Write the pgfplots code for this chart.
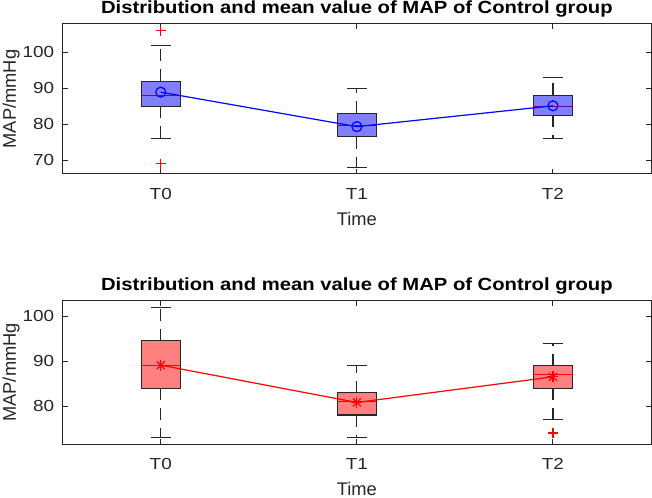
\documentclass[border=0pt]{standalone}
\usepackage{fontspec}
\setmainfont{Liberation Sans}
\newfontfamily\tickfont[FakeStretch=1.18]{Liberation Sans}
\newfontfamily\titlefont[FakeStretch=1.15]{Liberation Sans}
\usepackage{pgfplots}
\pgfplotsset{compat=1.18}

\definecolor{axgray}{RGB}{38,38,38}
\definecolor{boxblue}{RGB}{128,128,255}
\definecolor{boxred}{RGB}{255,128,128}
\definecolor{medpurple}{RGB}{128,0,128}

\pgfplotsset{
  every axis title/.style={at={(0.5,1)}, anchor=base, yshift=10bp, inner sep=0pt,
    font=\titlefont\bfseries\fontsize{17.6bp}{20bp}\selectfont},
  mapaxis/.style={
    scale only axis, width=588.3bp,
    xmin=0.5, xmax=3.5, xtick={1,2,3}, xticklabels={T0,T1,T2},
    tick align=inside, major tick length=5bp,
    axis line style={axgray, line width=1bp},
    every tick/.style={axgray, line width=1bp},
    ticklabel style={font=\tickfont\fontsize{16bp}{18bp}\selectfont, text=axgray, inner sep=0pt},
    xticklabel style={anchor=north, yshift=-14.5bp},
    yticklabel style={anchor=east, xshift=-8.4bp},
    /pgf/number format/assume math mode=true,
    xlabel={Time}, ylabel={MAP/mmHg},
    label style={font=\fontsize{18.3bp}{20bp}\selectfont, text=axgray, inner sep=0pt},
    xlabel style={at={(axis description cs:0.5,0)}, anchor=north, yshift=-38bp},
    ylabel style={at={(axis description cs:-0.0794,0.5)}, anchor=base},
    title={Distribution and mean value of MAP of Control group},
    unbounded coords=jump,
  },
  boxes/.style={draw=black!85, fill=#1, line width=1.1bp, forget plot},
  whisk/.style={black!85, dash pattern=on 12bp off 8bp, line width=1.1bp, forget plot},
  caps/.style={black!85, solid, line width=1.1bp, forget plot},
  medians/.style={#1, line width=1.1bp, forget plot},
  outl/.style={red, only marks, mark=+, mark size=5bp, mark options={solid, red, line width=1.1bp}, forget plot},
}

\begin{document}
\begin{tikzpicture}
\useasboundingbox (0,0) rectangle (652bp,498bp);

% Control group, first panel
\begin{axis}[mapaxis, at={(62.7bp,324bp)}, anchor=south west, height=150bp,
  ymin=66.1, ymax=107.9, ytick={70,80,90,100}]
  % whiskers: quartile -> whisker end
  \addplot[whisk] coordinates {
    (1,92) (1,102) (1,nan) (1,85) (1,76) (1,nan)
    (2,83) (2,90) (2,nan) (2,76.5) (2,68) (2,nan)
    (3,88) (3,93) (3,nan) (3,82.5) (3,76)};
  \addplot[caps] coordinates {
    (0.95,76) (1.05,76) (1,nan) (0.95,102) (1.05,102) (1,nan)
    (1.95,68) (2.05,68) (2,nan) (1.95,90) (2.05,90) (2,nan)
    (2.95,76) (3.05,76) (3,nan) (2.95,93) (3.05,93)};
  % interquartile boxes
  \addplot[boxes=boxblue] coordinates {(0.9,85) (1.1,85) (1.1,92) (0.9,92)} -- cycle;
  \addplot[boxes=boxblue] coordinates {(1.9,76.5) (2.1,76.5) (2.1,83) (1.9,83)} -- cycle;
  \addplot[boxes=boxblue] coordinates {(2.9,82.5) (3.1,82.5) (3.1,88) (2.9,88)} -- cycle;
  % medians
  \addplot[medians=medpurple] coordinates {
    (0.9,88) (1.1,88) (1,nan) (1.9,79.5) (2.1,79.5) (2,nan) (2.9,85) (3.1,85)};
  % outliers
  \addplot[outl] coordinates {(1,106) (1,69)};
  % mean values
  \addplot[blue, line width=1.2bp, mark=o, mark size=5bp, mark options={solid}]
    coordinates {(1,88.9) (2,79.3) (3,85.1)};
\end{axis}

% Control group, second panel
\begin{axis}[mapaxis, at={(62.7bp,54bp)}, anchor=south west, height=143.3bp,
  ymin=71.55, ymax=103.45, ytick={80,90,100}]
  \addplot[whisk] coordinates {
    (1,94.5) (1,102) (1,nan) (1,84) (1,73) (1,nan)
    (2,83) (2,89) (2,nan) (2,78) (2,73) (2,nan)
    (3,89) (3,94) (3,nan) (3,84) (3,77)};
  \addplot[caps] coordinates {
    (0.95,73) (1.05,73) (1,nan) (0.95,102) (1.05,102) (1,nan)
    (1.95,73) (2.05,73) (2,nan) (1.95,89) (2.05,89) (2,nan)
    (2.95,77) (3.05,77) (3,nan) (2.95,94) (3.05,94)};
  \addplot[boxes=boxred] coordinates {(0.9,84) (1.1,84) (1.1,94.5) (0.9,94.5)} -- cycle;
  \addplot[boxes=boxred] coordinates {(1.9,78) (2.1,78) (2.1,83) (1.9,83)} -- cycle;
  \addplot[boxes=boxred] coordinates {(2.9,84) (3.1,84) (3.1,89) (2.9,89)} -- cycle;
  \addplot[medians=red] coordinates {
    (0.9,89) (1.1,89) (1,nan) (1.9,81) (2.1,81) (2,nan) (2.9,87) (3.1,87)};
  \addplot[outl] coordinates {(3,74)};
  % mean values
  \addplot[red, line width=1.2bp, mark=+, mark size=5.5bp, mark options={solid}]
    coordinates {(1,89.1) (2,80.8) (3,86.5)};
  \addplot[red, only marks, mark=x, mark size=5.5bp, mark options={solid, line width=1.2bp}]
    coordinates {(1,89.1) (2,80.8) (3,86.5)};
\end{axis}
\end{tikzpicture}
\end{document}
